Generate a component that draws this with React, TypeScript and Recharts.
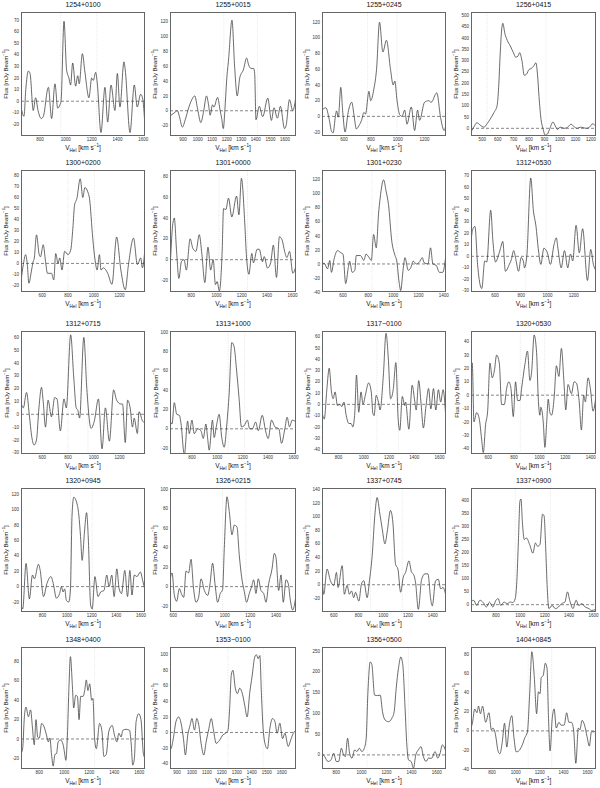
import { LineChart, Line, XAxis, YAxis, ReferenceLine } from "recharts";

// HI spectra, one [velocity km/s, flux mJy/beam] list per source
const s1254p0100 = [[653,-5],[676,-13],[690,10],[710,26],[723,24],[748,-8],[766,3],[785,-8],[810,-15],[826,-13],[865,12],[890,-15],[916,15],[937,-6],[955,-3],[963,0],[986,69],[1006,27],[1024,20],[1037,14],[1053,33],[1076,13],[1092,22],[1104,15],[1128,41],[1148,25],[1179,3],[1200,20],[1213,18],[1231,25],[1244,15],[1272,-27],[1303,12],[1324,-18],[1350,14],[1380,-8],[1399,24],[1419,-5],[1450,34],[1460,27],[1497,-27],[1530,14],[1553,-5],[1579,6],[1594,3],[1613,-22]];
const s1255p0015 = [[810,-7],[838,-3],[861,0],[875,-8],[895,-22],[915,-12],[940,5],[960,15],[980,20],[1000,2],[1022,-16],[1040,-2],[1061,20],[1075,8],[1086,-6],[1102,8],[1112,5],[1137,18],[1155,0],[1165,-10],[1176,-24],[1190,10],[1199,40],[1213,70],[1236,122],[1254,60],[1272,20],[1290,45],[1314,55],[1337,71],[1350,62],[1367,57],[1385,57],[1392,50],[1401,-12],[1424,6],[1447,-8],[1482,17],[1507,-13],[1525,4],[1548,-10],[1569,6],[1597,-24],[1608,-20],[1631,15],[1654,0],[1676,20]];
const s1255p0245 = [[435,8],[464,11],[489,-4],[506,-19],[518,-21],[535,0],[543,7],[557,-1],[575,37],[590,5],[607,-20],[630,5],[657,18],[675,0],[691,-16],[710,-12],[730,-5],[748,5],[760,3],[785,32],[798,20],[822,35],[842,60],[864,120],[889,82],[916,97],[946,60],[966,40],[978,45],[995,20],[1015,2],[1032,0],[1052,8],[1069,-10],[1101,12],[1126,-18],[1148,8],[1163,-5],[1200,18],[1230,20],[1250,18],[1291,30],[1321,-3],[1346,-18],[1360,-10]];
const s1256p0415 = [[427,-15],[445,5],[465,25],[485,15],[510,5],[530,20],[550,40],[575,70],[595,100],[605,180],[615,330],[625,440],[632,465],[645,420],[660,390],[680,365],[700,335],[715,315],[730,320],[740,335],[755,300],[770,235],[785,240],[800,260],[815,265],[830,275],[845,290],[855,240],[865,140],[878,40],[890,0],[905,-30],[920,-25],[935,0],[955,28],[970,10],[985,-5],[1000,5],[1015,3],[1030,0],[1050,5],[1070,18],[1090,8],[1110,0],[1130,5],[1150,3],[1170,0],[1190,5],[1210,20],[1232,8]];
const s1300p0200 = [[436,-16],[454,-1],[472,8],[485,-1],[497,-18],[518,-6],[531,2],[538,4],[556,26],[577,8],[587,6],[608,17],[626,2],[641,-9],[672,-9],[690,-15],[705,9],[723,0],[736,5],[754,-6],[774,11],[800,8],[821,12],[838,32],[851,53],[869,59],[895,77],[915,60],[931,69],[954,65],[967,59],[992,23],[1010,3],[1026,-6],[1044,8],[1056,-6],[1074,-4],[1108,-9],[1141,-19],[1177,24],[1210,-6],[1244,-24],[1269,-1],[1308,23],[1338,-1],[1364,5],[1377,-4],[1397,14]];
const s1301p0000 = [[633,-11],[654,33],[667,40],[685,8],[703,-18],[723,-2],[744,0],[762,-10],[792,20],[813,11],[838,8],[864,24],[885,5],[908,-22],[933,12],[954,-10],[974,0],[992,-24],[1005,-21],[1023,-30],[1044,5],[1056,49],[1074,48],[1095,59],[1121,41],[1159,61],[1177,43],[1197,78],[1223,36],[1236,5],[1256,-14],[1279,6],[1292,-3],[1321,10],[1338,10],[1364,-2],[1377,3],[1403,-8],[1428,-3],[1449,14],[1474,-17],[1497,22],[1518,19],[1538,8],[1556,2],[1577,8],[1603,-13],[1628,-6]];
const s1301p0230 = [[433,0],[451,1],[477,-7],[495,5],[508,-12],[529,7],[556,19],[582,16],[600,14],[621,-28],[642,-5],[652,4],[673,-12],[694,-9],[705,12],[739,12],[765,5],[783,14],[804,10],[825,5],[843,42],[864,23],[882,71],[895,94],[922,120],[942,104],[961,85],[987,33],[1013,12],[1026,5],[1047,-28],[1058,-38],[1078,-7],[1092,9],[1118,-9],[1139,-5],[1157,4],[1183,0],[1204,2],[1230,9],[1243,2],[1275,0],[1295,23],[1314,0],[1340,-2],[1366,-12],[1392,-12],[1418,14]];
const s1312p0530 = [[418,13],[430,23],[448,26],[468,-7],[493,-27],[500,-28],[523,-4],[538,-5],[568,40],[585,13],[605,-5],[625,0],[643,7],[660,13],[680,-13],[710,-7],[725,-3],[743,5],[760,-3],[780,-13],[800,-1],[818,-5],[825,-10],[843,0],[873,68],[893,40],[913,26],[930,7],[950,-7],[973,7],[1000,3],[1023,-7],[1050,10],[1068,16],[1080,7],[1105,-10],[1130,5],[1155,-10],[1175,2],[1193,-4],[1218,27],[1243,3],[1268,24],[1305,-21],[1330,6],[1350,-7],[1368,-12]];
const s1312p0715 = [[436,9],[454,5],[479,17],[500,0],[520,-18],[538,-24],[556,-20],[575,5],[595,21],[608,10],[626,-10],[646,11],[672,-2],[697,13],[715,12],[741,-13],[769,12],[787,5],[821,62],[844,30],[864,5],[877,3],[890,-3],[923,60],[946,20],[979,-11],[1005,-5],[1036,12],[1064,-27],[1090,5],[1121,-21],[1154,19],[1177,11],[1210,8],[1223,8],[1244,-22],[1262,11],[1282,5],[1300,-10],[1313,-3],[1338,-15],[1351,2],[1377,-5],[1397,-7]];
const s1313p1000 = [[627,8],[643,5],[661,27],[680,15],[701,14],[714,5],[740,-27],[766,8],[779,-5],[800,9],[818,-5],[844,0],[871,-2],[889,-10],[910,5],[923,-9],[936,-22],[962,9],[975,-9],[993,3],[1014,15],[1035,-9],[1054,-19],[1075,5],[1093,36],[1114,89],[1132,85],[1150,63],[1171,32],[1190,2],[1210,3],[1237,9],[1255,0],[1276,0],[1302,7],[1323,-2],[1354,14],[1380,-2],[1401,-10],[1427,9],[1454,2],[1485,0],[1506,-15],[1532,0],[1550,12],[1569,2],[1590,9],[1620,7]];
const s1317m0100 = [[670,-7],[688,-13],[709,14],[727,32],[745,11],[758,5],[774,11],[792,-1],[813,0],[826,-2],[844,2],[862,-10],[883,-17],[901,-17],[914,-20],[930,-7],[943,26],[961,-7],[979,11],[995,0],[1013,8],[1039,19],[1060,11],[1073,-8],[1083,-10],[1099,8],[1117,2],[1130,-5],[1156,26],[1177,63],[1195,41],[1213,5],[1234,13],[1255,37],[1273,-13],[1286,-23],[1306,7],[1325,-1],[1332,2],[1358,-22],[1384,17],[1403,4],[1416,-5],[1436,21],[1455,0],[1473,-21],[1494,-1],[1514,14],[1532,-4],[1553,14],[1571,-5],[1592,13],[1610,2],[1629,13],[1650,-11]];
const s1320p0530 = [[465,22],[475,24],[488,-20],[509,-13],[530,-18],[548,-33],[561,-43],[579,-22],[595,-12],[613,24],[631,13],[647,18],[665,30],[686,24],[704,-7],[725,-7],[743,5],[761,10],[777,5],[795,-16],[813,10],[829,-4],[847,-4],[860,5],[886,23],[906,33],[925,11],[938,17],[958,45],[977,32],[990,-2],[1003,-15],[1010,-9],[1029,-20],[1042,-39],[1055,-22],[1068,-3],[1081,-13],[1094,-15],[1114,-2],[1132,22],[1151,14],[1171,35],[1190,11],[1205,-11],[1223,8],[1249,1],[1270,10],[1288,9],[1309,-4],[1327,-26],[1345,0],[1358,-5],[1379,13],[1397,5],[1418,-12],[1439,-2]];
const s1320p0945 = [[625,-24],[639,-29],[666,30],[693,-16],[718,15],[734,10],[767,29],[781,21],[808,-13],[836,4],[868,13],[890,2],[912,-15],[939,-9],[953,0],[967,-7],[980,-3],[994,-18],[1013,-20],[1027,-3],[1040,93],[1054,116],[1076,110],[1095,93],[1109,65],[1122,34],[1141,71],[1158,96],[1172,63],[1191,-24],[1204,-29],[1226,13],[1251,-13],[1273,-7],[1300,-5],[1322,15],[1341,0],[1363,15],[1382,-13],[1404,23],[1423,-3],[1442,-9],[1469,21],[1491,-13],[1510,21],[1527,-11],[1546,15],[1568,13],[1595,19],[1614,8],[1633,-5]];
const s1326p0215 = [[574,7],[590,14],[608,-9],[626,-15],[647,-2],[662,-7],[681,-11],[699,16],[719,14],[738,28],[756,0],[777,-16],[797,-11],[816,8],[842,-4],[868,-9],[886,3],[906,24],[927,0],[945,-16],[966,-7],[984,-3],[997,39],[1018,92],[1036,77],[1057,53],[1075,63],[1096,61],[1114,32],[1132,10],[1153,-5],[1171,-16],[1192,-7],[1210,0],[1226,7],[1244,-7],[1262,8],[1283,-4],[1304,-7],[1322,-16],[1343,3],[1369,18],[1387,34],[1400,30],[1421,-4],[1439,12],[1457,-16],[1478,7],[1496,3],[1512,-14],[1530,-24],[1556,-9]];
const s1337p0745 = [[505,13],[519,-14],[546,23],[573,6],[600,-1],[622,18],[635,-4],[668,28],[686,-14],[708,-1],[727,-14],[743,-9],[762,-19],[776,-11],[803,-24],[824,1],[843,6],[870,-19],[889,6],[911,43],[932,101],[951,128],[973,104],[992,82],[1014,60],[1032,77],[1059,109],[1078,92],[1100,30],[1119,23],[1141,-11],[1162,11],[1181,18],[1208,35],[1230,18],[1243,16],[1262,3],[1284,-36],[1311,8],[1338,16],[1362,16],[1384,-21],[1397,-31],[1424,6],[1446,8],[1465,-6],[1484,-4],[1505,-14]];
const s1337p0900 = [[595,10],[616,17],[642,-3],[668,17],[695,8],[721,-9],[747,10],[774,-9],[800,17],[818,23],[839,-3],[866,10],[892,4],[918,10],[937,8],[958,23],[971,88],[984,243],[997,397],[1005,404],[1018,307],[1032,249],[1050,255],[1076,230],[1103,197],[1124,236],[1142,223],[1161,230],[1182,346],[1195,339],[1208,217],[1221,62],[1234,-15],[1261,-3],[1287,-15],[1313,-9],[1339,4],[1366,10],[1387,49],[1405,17],[1432,-15],[1458,17],[1479,-3],[1505,4],[1532,-9],[1563,-15],[1584,-22],[1621,-18]];
const s1348p0400 = [[654,-15],[667,-10],[681,23],[694,33],[713,23],[731,30],[744,14],[760,-6],[774,20],[787,2],[800,1],[819,16],[837,13],[858,4],[872,-3],[885,1],[898,-16],[911,-28],[925,-16],[938,-15],[951,-3],[970,-1],[991,-6],[1004,-16],[1012,-22],[1025,4],[1036,49],[1049,85],[1065,54],[1075,32],[1091,45],[1105,44],[1118,20],[1131,44],[1150,44],[1163,50],[1176,61],[1189,50],[1203,57],[1219,40],[1229,42],[1242,1],[1256,-10],[1282,16],[1301,8],[1316,-18],[1335,-16],[1356,8],[1383,14],[1401,4],[1420,-3],[1436,6],[1454,2],[1468,9],[1494,10],[1521,9],[1534,-4],[1547,-27],[1560,-20],[1574,18],[1595,26],[1613,20],[1632,-15],[1645,-20]];
const s1353m0100 = [[853,-22],[860,-21],[875,-8],[893,14],[911,20],[927,12],[943,-8],[956,-29],[972,-3],[987,9],[1000,18],[1017,3],[1032,18],[1046,9],[1061,-14],[1079,-29],[1095,-12],[1113,5],[1129,18],[1144,3],[1162,-14],[1185,-10],[1207,-3],[1225,-1],[1241,3],[1252,31],[1263,74],[1274,80],[1290,57],[1304,50],[1319,57],[1337,50],[1353,35],[1369,20],[1387,52],[1402,72],[1420,97],[1431,100],[1443,95],[1454,99],[1465,48],[1476,5],[1494,-18],[1505,-21],[1521,5],[1539,18],[1555,14],[1570,-1],[1588,12],[1606,-8],[1622,-1],[1644,-18],[1660,-10],[1678,-1],[1696,3]];
const s1356p0500 = [[686,4],[707,-4],[734,-16],[758,-12],[779,4],[800,-16],[819,-16],[840,16],[858,0],[872,-4],[890,40],[906,4],[925,-8],[946,12],[964,8],[983,16],[1004,8],[1023,16],[1038,40],[1052,152],[1070,224],[1083,218],[1105,144],[1131,143],[1150,144],[1168,104],[1189,84],[1216,80],[1242,88],[1261,104],[1277,160],[1295,208],[1314,236],[1330,216],[1348,112],[1362,24],[1375,-12],[1396,-16],[1415,-32],[1433,0],[1454,12],[1475,20],[1494,-4],[1515,-16],[1534,-8],[1560,-8],[1587,8],[1608,-8],[1627,4],[1645,24],[1674,8]];
const s1404p0845 = [[624,3],[637,9],[655,23],[674,19],[687,26],[703,18],[721,26],[747,9],[774,19],[795,1],[808,3],[826,-2],[853,-22],[866,-24],[887,-11],[905,8],[924,-17],[945,6],[966,16],[984,-7],[1003,-22],[1024,-21],[1050,-16],[1076,-7],[1097,-1],[1116,39],[1134,83],[1155,56],[1174,18],[1189,41],[1203,39],[1213,56],[1229,58],[1247,71],[1261,66],[1274,13],[1287,-21],[1305,13],[1321,23],[1339,3],[1361,9],[1379,6],[1405,6],[1426,19],[1445,9],[1466,9],[1484,1],[1503,-34],[1524,3],[1537,1],[1555,11],[1576,6],[1597,-6],[1616,-16],[1634,-1],[1655,-1],[1672,0]];

// panel titles, in reading order
const NAMES = [
  "1254+0100", "1255+0015", "1255+0245", "1256+0415",
  "1300+0200", "1301+0000", "1301+0230", "1312+0530",
  "1312+0715", "1313+1000", "1317\u22120100", "1320+0530",
  "1320+0945", "1326+0215", "1337+0745", "1337+0900",
  "1348+0400", "1353\u22120100", "1356+0500", "1404+0845",
];
const SPECTRA = [
  s1254p0100, s1255p0015, s1255p0245, s1256p0415,
  s1300p0200, s1301p0000, s1301p0230, s1312p0530,
  s1312p0715, s1313p1000, s1317m0100, s1320p0530,
  s1320p0945, s1326p0215, s1337p0745, s1337p0900,
  s1348p0400, s1353m0100, s1356p0500, s1404p0845,
];
const X_DOMAINS = [
  [653, 1613], [810, 1676], [435, 1360], [427, 1232],
  [436, 1397], [633, 1628], [433, 1418], [418, 1370],
  [436, 1397], [627, 1620], [670, 1652], [465, 1441],
  [625, 1633], [574, 1556], [505, 1508], [595, 1621],
  [654, 1645], [853, 1696], [686, 1674], [624, 1672],
];
const T800_1600 = [800, 1000, 1200, 1400, 1600];
const T600_1200 = [600, 800, 1000, 1200];
const T600_1400 = [600, 800, 1000, 1200, 1400];
const T900_1600 = [900, 1000, 1100, 1200, 1300, 1400, 1500, 1600];
const T500_1200 = [500, 600, 700, 800, 900, 1000, 1100, 1200];
const X_TICKS = [
  T800_1600, T900_1600, T600_1200, T500_1200,
  T600_1200, T800_1600, T600_1400, T600_1200,
  T600_1200, T800_1600, T800_1600, T600_1400,
  T800_1600, T600_1400, T600_1400, T800_1600,
  T800_1600, T900_1600, T800_1600, T800_1600,
];
const Y_DOMAINS = [
  [-30, 77], [-34, 133], [-25, 133], [-34, 515],
  [-26, 85], [-31, 86], [-40, 134], [-31, 75],
  [-31, 65], [-26, 101], [-44, 65], [-44, 48],
  [-33, 128], [-26, 101], [-40, 142], [-28, 446],
  [-31, 95], [-47, 110], [-34, 260], [-40, 88],
];
const Y_TICKS = [
  [-20, -10, 0, 10, 20, 30, 40, 50, 60, 70],
  [-20, 0, 20, 40, 60, 80, 100, 120],
  [-20, 0, 20, 40, 60, 80, 100, 120],
  [0, 50, 100, 150, 200, 250, 300, 350, 400, 450, 500],
  [-20, -10, 0, 10, 20, 30, 40, 50, 60, 70, 80],
  [-20, 0, 20, 40, 60, 80],
  [-40, -20, 0, 20, 40, 60, 80, 100, 120],
  [-30, -20, -10, 0, 10, 20, 30, 40, 50, 60, 70],
  [-30, -20, -10, 0, 10, 20, 30, 40, 50, 60],
  [-20, 0, 20, 40, 60, 80, 100],
  [-40, -30, -20, -10, 0, 10, 20, 30, 40, 50, 60],
  [-40, -30, -20, -10, 0, 10, 20, 30, 40],
  [-20, 0, 20, 40, 60, 80, 100, 120],
  [-20, 0, 20, 40, 60, 80, 100],
  [-20, 0, 20, 40, 60, 80, 100, 120, 140],
  [0, 50, 100, 150, 200, 250, 300, 350, 400],
  [-20, 0, 20, 40, 60, 80],
  [-40, -20, 0, 20, 40, 60, 80, 100],
  [0, 50, 100, 150, 200, 250],
  [-40, -20, 0, 20, 40, 60, 80],
];
// velocity range of the detected line (faint vertical markers)
const LINE_EDGES = [
  [960, 1240], [1180, 1410], [775, 995], [530, 910],
  [800, 1005], [1020, 1245], [830, 1030], [835, 990],
  [800, 955], [1085, 1215], [1105, 1275], [850, 1040],
  [1027, 1204], [984, 1166], [897, 1154], [958, 1247],
  [1017, 1242], [1241, 1476], [1044, 1375], [1103, 1300],
];

const COL_X = [[21, 145], [170, 296], [322, 446], [471, 596]];
const ROW_Y = [[12, 136], [170, 292], [331, 454], [488, 612], [647, 769]];
const Y_AXIS_W = 16;
const X_AXIS_H = 9;
const PAD_R = 7;
const INK = "#3a3a3a";

function Panel({ idx }: { idx: number }) {
  const [x0, x1] = COL_X[idx % 4];
  const [y0, y1] = ROW_Y[Math.floor(idx / 4)];
  const w = x1 - x0;
  const h = y1 - y0;
  const data = SPECTRA[idx].map(([v, f]) => ({ v, f }));
  const tick = { fontSize: 4.5, fill: "#333" };

  return (
    <>
      <div
        style={{
          position: "absolute",
          left: x0,
          top: y0 - 11,
          width: w,
          textAlign: "center",
          fontSize: 7,
          lineHeight: "8px",
          color: "#111",
        }}
      >
        {NAMES[idx]}
      </div>
      <div style={{ position: "absolute", left: x0 - Y_AXIS_W, top: y0 - 1 }}>
        <LineChart
          width={w + Y_AXIS_W + PAD_R}
          height={h + X_AXIS_H + 1}
          data={data}
          margin={{ top: 1, right: PAD_R, left: 0, bottom: 0 }}
        >
          <XAxis
            type="number"
            dataKey="v"
            domain={X_DOMAINS[idx]}
            ticks={X_TICKS[idx]}
            allowDataOverflow
            interval={0}
            height={X_AXIS_H}
            axisLine={false}
            tickLine={false}
            tickSize={0}
            tickMargin={2}
            tick={tick}
          />
          <YAxis
            type="number"
            domain={Y_DOMAINS[idx]}
            ticks={Y_TICKS[idx]}
            allowDataOverflow
            interval={0}
            width={Y_AXIS_W}
            axisLine={false}
            tickLine={false}
            tickSize={0}
            tickMargin={2}
            tick={tick}
          />
          {LINE_EDGES[idx].map((e) => (
            <ReferenceLine key={e} x={e} stroke="#dcdcdc" strokeWidth={0.6} strokeDasharray="1 1" />
          ))}
          <ReferenceLine y={0} stroke="#555" strokeWidth={0.7} strokeDasharray="3 2" />
          <Line
            type="monotone"
            dataKey="f"
            stroke={INK}
            strokeWidth={0.75}
            dot={false}
            isAnimationActive={false}
          />
        </LineChart>
      </div>
      <div
        style={{
          position: "absolute",
          left: x0,
          top: y0,
          width: w,
          height: h,
          border: "1px solid #666",
          boxSizing: "border-box",
          pointerEvents: "none",
        }}
      />
      <div
        style={{
          position: "absolute",
          left: x0,
          top: y1 + 8,
          width: w,
          textAlign: "center",
          fontSize: 6.5,
          lineHeight: "8px",
          color: "#111",
        }}
      >
        V<sub style={{ fontSize: "70%", lineHeight: 0 }}>Hel</sub> [km s
        <sup style={{ fontSize: "70%", lineHeight: 0 }}>{"\u22121"}</sup>]
      </div>
      <div
        style={{
          position: "absolute",
          left: x0 - 15 - h / 2,
          top: y0 + h / 2 - 4,
          width: h,
          height: 8,
          textAlign: "center",
          fontSize: 6,
          lineHeight: "8px",
          color: "#111",
          transform: "rotate(-90deg)",
          transformOrigin: "center",
          whiteSpace: "nowrap",
        }}
      >
        Flux [mJy Beam<sup style={{ fontSize: "70%", lineHeight: 0 }}>{"\u22121"}</sup>]
      </div>
    </>
  );
}

export default function App() {
  return (
    <div
      style={{
        position: "absolute",
        left: 0,
        top: 0,
        width: 600,
        height: 788,
        background: "#fff",
        fontFamily: "'Liberation Sans', Arial, sans-serif",
        overflow: "hidden",
      }}
    >
      {NAMES.map((_, i) => (
        <Panel key={i} idx={i} />
      ))}
    </div>
  );
}
